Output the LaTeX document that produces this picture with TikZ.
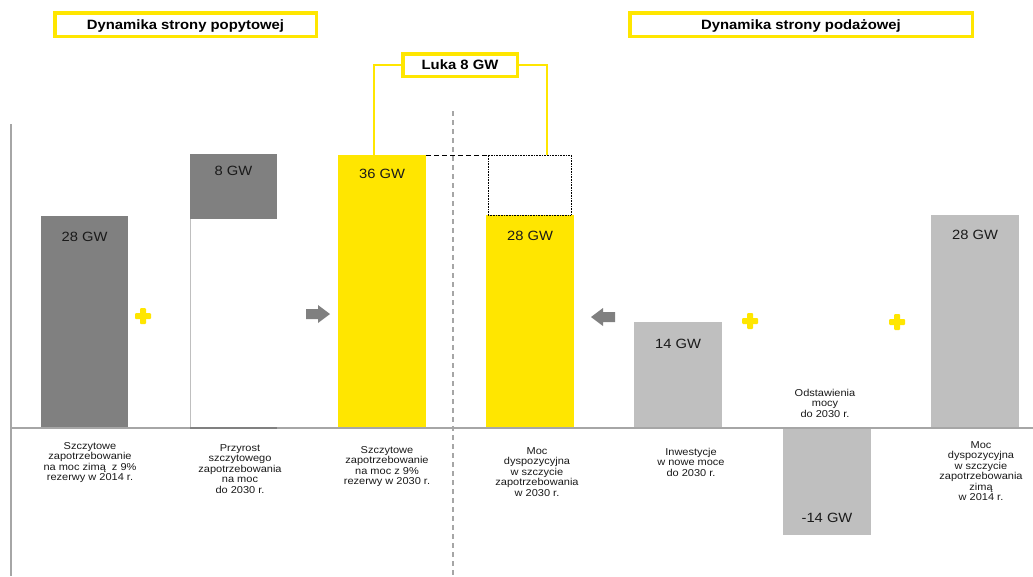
\documentclass[tikz,border=0pt]{standalone}
\usepackage{fontspec}
\setmainfont{Liberation Sans}[FakeStretch=1.1]
\definecolor{eyyellow}{HTML}{FFE600}
\definecolor{dgray}{HTML}{808080}
\definecolor{lgray}{HTML}{BFBFBF}
\definecolor{axgray}{HTML}{A6A6A6}
\definecolor{txt}{HTML}{1A1A1A}
\tikzset{
  bar/.style={inner sep=0pt, outer sep=0pt},
  val/.style={inner sep=0pt, text=txt, font=\fontsize{13.4}{14}\selectfont},
  lbl/.style={inner sep=0pt, anchor=north, align=center, text=txt, font=\fontsize{10}{10.5}\selectfont},
  hdr/.style={draw=eyyellow, line width=3.5pt, fill=white, inner sep=0pt, text depth=0pt, text=black, font=\fontsize{13.5}{14}\selectfont\bfseries},
  bracketline/.style={draw=eyyellow, line width=2.5pt},
  rarrow/.pic={\fill[dgray] (-12,-5) -- (0,-5) -- (0,-9) -- (12,0) -- (0,9) -- (0,5) -- (-12,5) -- cycle;},
  plussign/.pic={\fill[eyyellow, rounded corners=1pt] (-8,-3) rectangle (8,3); \fill[eyyellow, rounded corners=1pt] (-3,-8) rectangle (3,8);}
}
\begin{document}
\begin{tikzpicture}[x=1pt,y=-1pt]
\useasboundingbox[fill=white] (0,0) rectangle (1033,576);
% axes
\draw[axgray, line width=1.3pt] (11,124) -- (11,576);
\draw[axgray, line width=1.3pt, dash pattern=on 5pt off 4pt] (453,111) -- (453,576);
% bars
\node[bar, fill=dgray, minimum width=87pt, minimum height=212pt, anchor=south west] (b1) at (41,428) {};
\node[bar, fill=white, minimum width=87pt, minimum height=209pt, anchor=south west] (b2) at (190,428) {};
\node[bar, fill=dgray, minimum width=87pt, minimum height=65pt, anchor=south west] (b2t) at (190,219) {};
\node[bar, fill=eyyellow, minimum width=88pt, minimum height=273pt, anchor=south west] (b3) at (338,428) {};
\node[bar, fill=eyyellow, minimum width=88pt, minimum height=213pt, anchor=south west] (b4) at (486,428) {};
\node[bar, draw=black, dash pattern=on 0.8pt off 0.8pt, line width=0.8pt, minimum width=83pt, minimum height=60pt, anchor=south west] (gap) at (488,215) {};
\node[bar, fill=lgray, minimum width=88pt, minimum height=106pt, anchor=south west] (b5) at (634,428) {};
\node[bar, fill=lgray, minimum width=88pt, minimum height=107pt, anchor=north west] (b6) at (783,428) {};
\node[bar, fill=lgray, minimum width=88pt, minimum height=213pt, anchor=south west] (b7) at (931,428) {};
\draw[lgray, line width=1pt] (b2.south west) -- (b2t.south west);
% horizontal axis
\draw[axgray, line width=1.3pt] (11,428) -- (1033,428);
\draw[dgray, line width=1.3pt] (b2.south west) -- (b2.south east);
% dashed link
\draw[black, line width=1pt, dash pattern=on 5pt off 3pt] (b3.north east) -- (gap.north west);
% values
\node[val] (v1) at ([yshift=-21pt]b1.north) {28 GW};
\node[val] (v2) at ([yshift=-17pt]b2t.north) {8 GW};
\node[val] (v3) at ([yshift=-19pt]b3.north) {36 GW};
\node[val] (v4) at ([yshift=-21pt]b4.north) {28 GW};
\node[val] (v5) at ([yshift=-22pt]b5.north) {14 GW};
\node[val] (v6) at ([yshift=17pt]b6.south) {-14 GW};
\node[val] (v7) at ([yshift=-20pt]b7.north) {28 GW};
% labels
\node[lbl] (l1) at (90,442) {Szczytowe\\zapotrzebowanie\\na moc zimą\ \ z 9\%\\rezerwy w 2014 r.};
\node[lbl] (l2) at (240,444) {Przyrost\\szczytowego\\zapotrzebowania\\na moc\\do 2030 r.};
\node[lbl] (l3) at (387,446) {Szczytowe\\zapotrzebowanie\\na moc z 9\%\\rezerwy w 2030 r.};
\node[lbl] (l4) at (537,447) {Moc\\dyspozycyjna\\w szczycie\\zapotrzebowania\\w 2030 r.};
\node[lbl] (l5) at (691,448) {Inwestycje\\w nowe moce\\do 2030 r.};
\node[lbl] (l6) at (825,389) {Odstawienia\\mocy\\do 2030 r.};
\node[lbl] (l7) at (981,441) {Moc\\dyspozycyjna\\w szczycie\\zapotrzebowania\\zimą\\w 2014 r.};
% headers
\node[hdr, minimum width=261.5pt, minimum height=23.5pt] (h1) at (185.5,24.5) {Dynamika strony popytowej};
\node[hdr, minimum width=342.5pt, minimum height=23.5pt] (h2) at (801,24.5) {Dynamika strony podażowej};
\node[hdr, minimum width=114.5pt, minimum height=22.5pt] (luka) at (460,65) {Luka 8 GW};
\coordinate (bl) at (374,155);
\coordinate (br) at (547,155);
\draw[bracketline] (luka.west) -| (bl);
\draw[bracketline] (luka.east) -| (br);
% arrows
\pic at (318,314) {rarrow};
\pic[rotate=180] at (603,317) {rarrow};
% plus signs
\pic at (143,316) {plussign};
\pic at (750,321) {plussign};
\pic at (897,322) {plussign};
\end{tikzpicture}
\end{document}
